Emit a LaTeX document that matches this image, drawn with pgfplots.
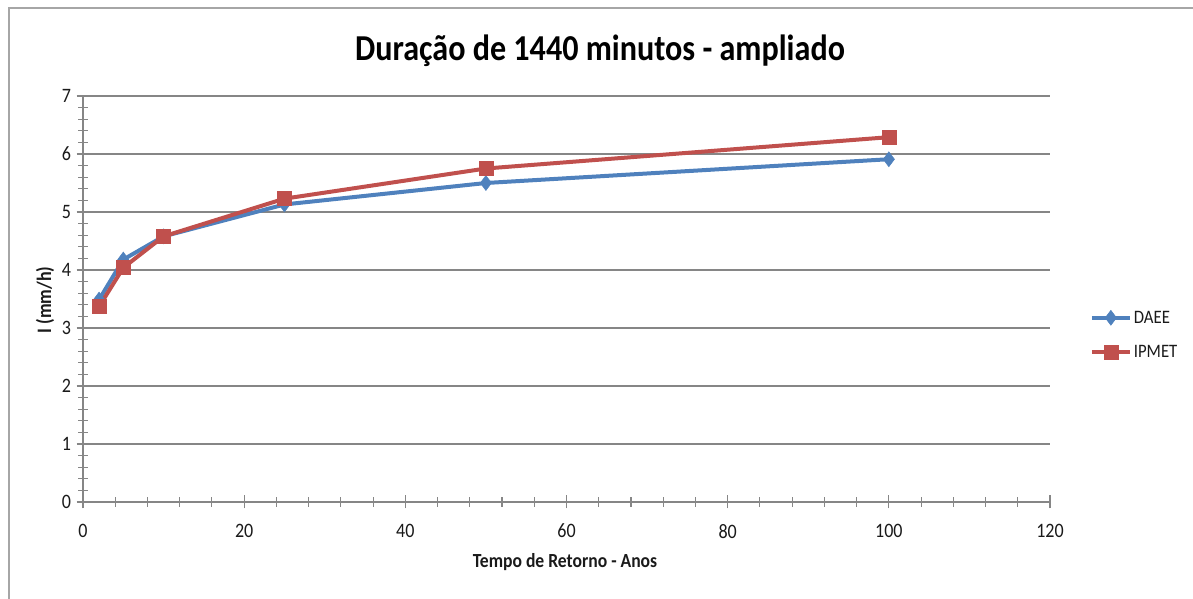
\documentclass[border=0pt]{standalone}
\usepackage{fontspec}
\setmainfont{Carlito}[FakeStretch=0.88]
\usepackage{pgfplots}
\pgfplotsset{compat=1.18}
\definecolor{daee}{HTML}{4F81BD}
\definecolor{ipmet}{HTML}{C0504D}
\definecolor{axisgray}{HTML}{868686}
\definecolor{txt}{HTML}{1A1A1A}
\begin{document}
\begin{tikzpicture}[x=1pt,y=1pt]
\useasboundingbox (0pt,0pt) rectangle (1193pt,599pt);
% chart area frame
\draw[color=black!35,line width=1.2pt] (9pt,0pt) -- (9pt,591pt) -- (1193pt,591pt);
% title
\node[anchor=base,font=\fontsize{36.5}{42}\selectfont\bfseries,text=black] at (600pt,538pt) {Duração de 1440 minutos - ampliado};
% axis titles
\node[anchor=base,font=\fontsize{20}{22}\selectfont\bfseries,text=txt] at (565pt,31pt) {Tempo de Retorno - Anos};
\node[rotate=90,font=\fontsize{20.5}{22}\selectfont\bfseries,text=txt] at (45pt,299pt) {I (mm/h)};
\begin{axis}[
  at={(83pt,97pt)}, anchor=south west,
  scale only axis, width=967pt, height=406pt,
  xmin=0, xmax=120, ymin=0, ymax=7,
  xtick distance=20, ytick distance=1,
  minor x tick num=4, minor y tick num=4,
  axis lines*=left,
  axis line style={color=axisgray,line width=1.2pt},
  tick align=center,
  major tick length=13pt, minor tick length=10pt,
  every tick/.style={color=axisgray,line width=1.1pt},
  ymajorgrids,
  major grid style={color=axisgray,line width=1.1pt},
  tick label style={font=\fontsize{20.5}{22}\selectfont,text=txt},
  /pgf/number format/assume math mode=true,
  xticklabel style={yshift=-12pt},
  yticklabel style={xshift=-2pt},
  clip=false,
  legend style={at={(1.041,0.411)},anchor=west,draw=none,fill=none,
    font=\fontsize{19}{21}\selectfont,text=txt,row sep=17pt,
    inner sep=0pt},
  legend cell align=left,
  legend image code/.code={%
    \draw[mark repeat=2,mark phase=2] plot coordinates {(0pt,0pt) (19pt,0pt) (38pt,0pt)};},
]
\addplot[color=daee,line width=4pt,mark=diamond*,mark size=7.5pt,
  mark options={line width=0.5pt,fill=daee,draw=daee}]
  coordinates {(2,3.49) (5,4.18) (10,4.58) (25,5.13) (50,5.50) (100,5.91)};
\addlegendentry{DAEE}
\addplot[color=ipmet,line width=4pt,mark=square*,mark size=7pt,
  mark options={line width=0.5pt,fill=ipmet,draw=ipmet}]
  coordinates {(2,3.37) (5,4.04) (10,4.58) (25,5.23) (50,5.75) (100,6.29)};
\addlegendentry{IPMET}
\end{axis}
\end{tikzpicture}
\end{document}
